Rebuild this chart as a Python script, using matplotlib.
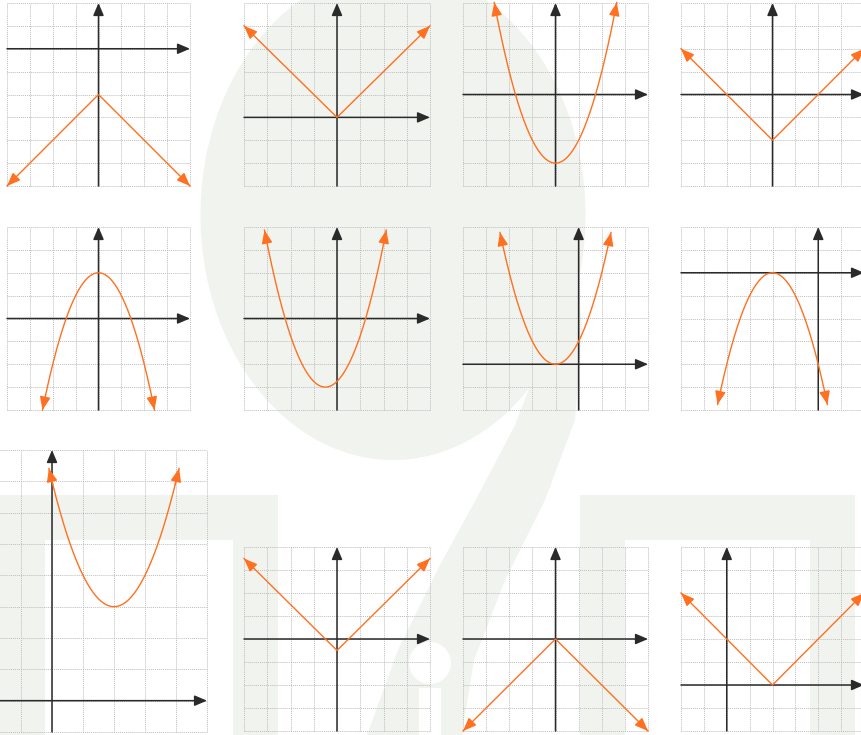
import numpy as np
import matplotlib
matplotlib.use("Agg")
import matplotlib.pyplot as plt
from matplotlib.patches import Ellipse, Polygon, Rectangle, Circle

# ---- graph data: y = a*|x-h| + k  ("abs")  or  y = a*(x-h)^2 + k  ("quad")
kinds = ["abs", "abs", "quad", "abs",
         "quad", "quad", "quad", "quad",
         "quad", "abs", "abs", "abs"]
a_vals = [-1, 1, 1, 1, -1, 1, 1, -1, 1, 1, -1, 1]
h_vals = [0, 0, 0, 0, 0, -0.5, -1, -2, 2, 0, 0, 2]
k_vals = [-2, 0, -3, -2, 2, -3, 0, 0, 3, -0.5, 0, 0]
# x-extent of each drawn curve (arrow tips)
x_start = [-4, -4, -2.65, -4, -2.45, -3.12, -3.4, -4.4, -0.1, -4, -4, -2]
x_end = [4, 4, 2.65, 4, 2.45, 2.12, 1.4, 0.4, 4.1, 4, 4, 6]
# grid window of each coordinate plane
x_lo = [-4, -4, -4, -4, -4, -4, -5, -6, -2, -4, -4, -2]
x_hi = [4, 4, 4, 4, 4, 4, 3, 2, 5, 4, 4, 6]
y_lo = [-6, -3, -4, -4, -4, -4, -2, -6, -1, -4, -4, -2]
y_hi = [2, 5, 4, 4, 4, 4, 6, 2, 8, 4, 4, 6]

# ---- page layout (pixel boxes: left, top, right, bottom)
W, H = 861, 735
boxes = [
    (7, 3, 190, 186), (244, 3, 430, 186), (463, 3, 648, 186), (681, 3, 864, 186),
    (7, 227, 190, 410), (244, 227, 430, 410), (463, 227, 648, 410), (681, 227, 864, 410),
    (-10, 450, 207, 732), (244, 547, 430, 731), (463, 547, 648, 731), (681, 547, 864, 731),
]

ORANGE = "#ff7020"
AXIS = "#2a2a2a"
GRID = "#bdbdbd"
SHADE = "#f1f3ee"

fig = plt.figure(figsize=(W / 100, H / 100), dpi=100)
fig.patch.set_facecolor("white")

# faint logo shapes behind the graphs
bg = fig.add_axes([0, 0, 1, 1], zorder=0)
bg.set_xlim(0, W)
bg.set_ylim(H, 0)
bg.axis("off")
bg.add_patch(Ellipse((393, 215), 385, 490, color=SHADE, lw=0))
tail = [(575, 230), (582, 330), (575, 420), (545, 500), (505, 580), (474, 660),
        (462, 735), (367, 735), (398, 650), (440, 565), (480, 492), (515, 425),
        (540, 360), (555, 290)]
bg.add_patch(Polygon(tail, closed=True, color=SHADE, lw=0))
bg.add_patch(Circle((430, 663), 21, color="white", lw=0))
bg.add_patch(Rectangle((419, 688), 22, 50, color="white", lw=0))
for x0, x1 in [(0, 278), (580, 855)]:
    bg.add_patch(Rectangle((x0, 495), x1 - x0, 45, color=SHADE, lw=0))
    bg.add_patch(Rectangle((x0, 540), 45, 200, color=SHADE, lw=0))
    bg.add_patch(Rectangle((x1 - 45, 540), 45, 200, color=SHADE, lw=0))


def curve(kind, a, h, k, xs):
    if kind == "abs":
        return a * np.abs(xs - h) + k
    return a * (xs - h) ** 2 + k


for i in range(12):
    l, t, r, b = boxes[i]
    ax = fig.add_axes([l / W, 1 - b / H, (r - l) / W, (b - t) / H], zorder=1)
    ax.patch.set_alpha(0)
    ax.set_xlim(x_lo[i], x_hi[i])
    ax.set_ylim(y_lo[i], y_hi[i])
    for s in ax.spines.values():
        s.set_visible(False)
    ax.set_xticks(np.arange(x_lo[i], x_hi[i] + 1))
    ax.set_yticks(np.arange(y_lo[i], y_hi[i] + 1))
    ax.tick_params(length=0, labelbottom=False, labelleft=False)
    ax.grid(True, linestyle=(0, (1, 1)), color=GRID, lw=0.7)
    for gl in ax.get_xgridlines() + ax.get_ygridlines():
        gl.set_clip_on(False)
    ax.set_axisbelow(True)

    # coordinate axes with arrowheads on the positive ends
    axis_style = dict(arrowstyle="-|>,head_length=0.75,head_width=0.32",
                      color=AXIS, lw=1.1, shrinkA=0, shrinkB=0, mutation_scale=10)
    ax.annotate("", xy=(x_hi[i], 0), xytext=(x_lo[i], 0),
                arrowprops=axis_style, annotation_clip=False)
    ax.annotate("", xy=(0, y_hi[i]), xytext=(0, y_lo[i]),
                arrowprops=axis_style, annotation_clip=False)

    # the graph itself
    xs = np.linspace(x_start[i], x_end[i], 400)
    ys = curve(kinds[i], a_vals[i], h_vals[i], k_vals[i], xs)
    ax.plot(xs, ys, color=ORANGE, lw=1.0, clip_on=False, zorder=3)
    head_style = dict(arrowstyle="-|>,head_length=0.8,head_width=0.32",
                      color=ORANGE, lw=1.0, shrinkA=0, shrinkB=0, mutation_scale=10)
    d = np.hypot(np.diff(xs), np.diff(ys)).cumsum()
    j = int(np.searchsorted(d, 0.5)) + 1
    ax.annotate("", xy=(xs[0], ys[0]), xytext=(xs[j], ys[j]),
                arrowprops=head_style, annotation_clip=False, zorder=4)
    d2 = np.hypot(np.diff(xs[::-1]), np.diff(ys[::-1])).cumsum()
    j2 = int(np.searchsorted(d2, 0.5)) + 1
    ax.annotate("", xy=(xs[-1], ys[-1]), xytext=(xs[-1 - j2], ys[-1 - j2]),
                arrowprops=head_style, annotation_clip=False, zorder=4)

fig.savefig("out.png", dpi=100, facecolor="white")
